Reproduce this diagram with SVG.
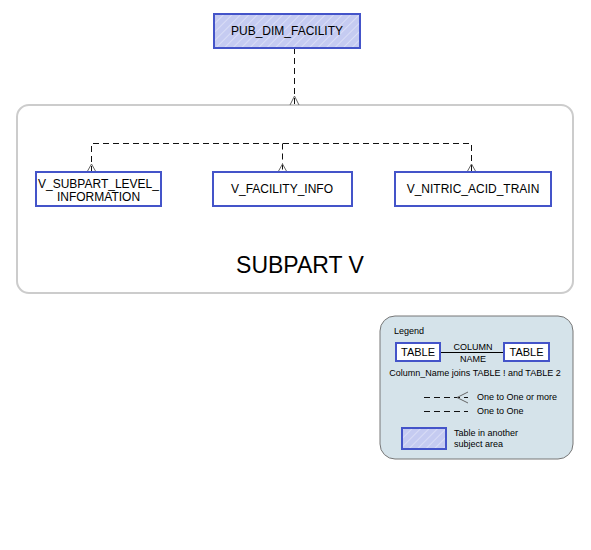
<svg xmlns="http://www.w3.org/2000/svg" width="591" height="550" viewBox="0 0 591 550">
<style>
text{font-family:"Liberation Sans",Arial,sans-serif;fill:#000}
.tbl{fill:#fff;stroke:#4454c9;stroke-width:2}
.ext{fill:url(#hatch);stroke:#4454c9;stroke-width:2}
.lbl{font-size:12px;text-anchor:middle}
.dash{fill:none;stroke:#111;stroke-width:1;stroke-dasharray:6,4}
.foot{fill:none;stroke:#666;stroke-width:1}
.sm{font-size:9px}
</style>
<defs>
<pattern id="hatch" width="6" height="6" patternUnits="userSpaceOnUse" patternTransform="rotate(45)">
<rect width="6" height="6" fill="#c5cbf1"/>
<line x1="0" y1="0" x2="0" y2="6" stroke="#d9ddf6" stroke-width="2"/>
</pattern>
</defs>
<rect width="591" height="550" fill="#fff"/>
<g id="subject-area">
<rect x="17" y="105" width="556" height="188" rx="12" fill="#fff" stroke="#cccccc" stroke-width="2"/>
<text x="300" y="273" font-size="23" text-anchor="middle">SUBPART V</text>
</g>
<g id="connectors">
<path class="dash" d="M294.5 48V105"/>
<path class="foot" d="M290 105L294.5 96L299 105"/>
<path class="dash" d="M91.5 172V143.5H471.5V172M282.5 143.5V172"/>
<path class="foot" d="M87 172L91.5 164L96 172M278 172L282.5 164L287 172M467 172L471.5 164L476 172"/>
</g>
<g id="PUB_DIM_FACILITY">
<rect class="ext" x="214" y="14" width="146" height="34"/>
<text class="lbl" x="287" y="35">PUB_DIM_FACILITY</text>
</g>
<g id="V_SUBPART_LEVEL_INFORMATION">
<rect class="tbl" x="36" y="172" width="125" height="34"/>
<text class="lbl" x="98.5" y="188">V_SUBPART_LEVEL_</text>
<text class="lbl" x="98.5" y="201">INFORMATION</text>
</g>
<g id="V_FACILITY_INFO">
<rect class="tbl" x="213" y="172" width="139" height="34"/>
<text class="lbl" x="282" y="193">V_FACILITY_INFO</text>
</g>
<g id="V_NITRIC_ACID_TRAIN">
<rect class="tbl" x="395" y="172" width="156" height="34"/>
<text class="lbl" x="473" y="193">V_NITRIC_ACID_TRAIN</text>
</g>
<g id="legend">
<rect x="380" y="316" width="193" height="143" rx="15" fill="#d5e3ea" stroke="#777" stroke-width="1"/>
<text class="sm" x="394" y="334">Legend</text>
<rect class="tbl" x="396" y="343" width="44" height="18"/>
<text x="418" y="356" font-size="11" text-anchor="middle">TABLE</text>
<rect class="tbl" x="504" y="343" width="45" height="18"/>
<text x="526.5" y="356" font-size="11" text-anchor="middle">TABLE</text>
<path d="M441 352.5H503" stroke="#000" stroke-width="1"/>
<text class="sm" x="473" y="350" text-anchor="middle">COLUMN</text>
<text class="sm" x="473" y="362" text-anchor="middle">NAME</text>
<text class="sm" x="475" y="376" text-anchor="middle">Column_Name joins TABLE ! and TABLE 2</text>
<path class="dash" d="M424 397.5H468" stroke-dasharray="7,4"/>
<path class="foot" d="M468 392L457 397.5L468 403"/>
<text class="sm" x="477" y="400">One to One or more</text>
<path class="dash" d="M424 411.5H468" stroke-dasharray="7,4"/>
<text class="sm" x="477" y="414">One to One</text>
<rect class="ext" x="402" y="428" width="44" height="21"/>
<text class="sm" x="454" y="436" font-size="8.5">Table in another</text>
<text class="sm" x="454" y="447" font-size="8.5">subject area</text>
</g>
</svg>
